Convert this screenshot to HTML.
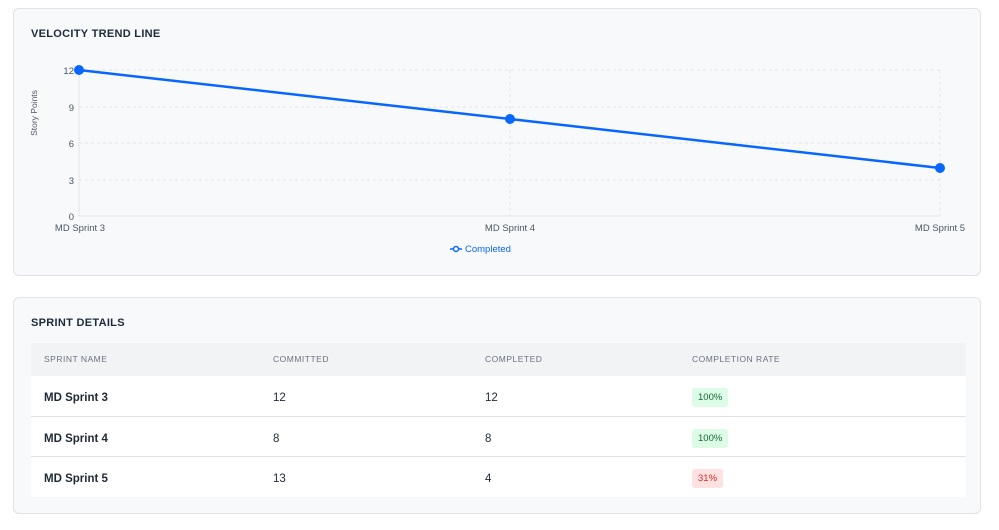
<!DOCTYPE html>
<html><head><meta charset="utf-8"><style>
body{margin:0;width:999px;height:530px;background:#fff;font-family:"Liberation Sans",sans-serif;position:relative;overflow:hidden}
.card{position:absolute;left:13px;width:968px;background:#f8f9fb;border:1px solid #dfe2e6;border-radius:6px;box-sizing:border-box}
.h{position:absolute;left:17px;font-size:11px;font-weight:bold;color:#1e2a3b;letter-spacing:0.3px}
.th{position:absolute;top:0;height:32px;line-height:32px;font-size:8.5px;color:#6b7280;letter-spacing:0.5px}
.row{position:absolute;left:0;width:935px;height:40px;background:#fff;border-top:1px solid #dfe2e6}
.c{position:absolute;top:2px;line-height:40px;font-size:11.5px;color:#1f2937}
.b{position:absolute;top:12px;height:19px;line-height:19px;font-size:9.5px;padding:0 6px;border-radius:3px}
</style></head><body>
<div class="card" style="top:8px;height:268px">
<div class="h" style="top:19px">VELOCITY TREND LINE</div>
</div>
<svg style="position:absolute;left:0;top:0" width="999" height="280">
<g stroke="#e2e5e9" stroke-dasharray="3,3" stroke-width="1">
<line x1="79" x2="940" y1="70" y2="70"/><line x1="79" x2="940" y1="107" y2="107"/><line x1="79" x2="940" y1="143" y2="143"/><line x1="79" x2="940" y1="180" y2="180"/>
<line x1="510" x2="510" y1="70" y2="216"/><line x1="940" x2="940" y1="70" y2="216"/>
</g>
<line x1="79" x2="940" y1="216" y2="216" stroke="#e2e5e9"/>
<line x1="79" x2="79" y1="70" y2="216" stroke="#e2e5e9"/>
<g font-size="9.5" fill="#4b5563" text-anchor="end" font-family="Liberation Sans">
<text x="74" y="74">12</text><text x="74" y="111">9</text><text x="74" y="147">6</text><text x="74" y="184">3</text><text x="74" y="220">0</text>
</g>
<g font-size="9.5" fill="#4b5563" text-anchor="middle" font-family="Liberation Sans">
<text x="80" y="231">MD Sprint 3</text><text x="510" y="231">MD Sprint 4</text><text x="940" y="231">MD Sprint 5</text>
</g>
<text transform="translate(37,113) rotate(-90)" font-size="8.5" fill="#4b5563" text-anchor="middle" font-family="Liberation Sans">Story Points</text>
<polyline points="79,70 510,119 940,168" fill="none" stroke="#0866ff" stroke-width="2.5"/>
<circle cx="79" cy="70" r="5" fill="#0866ff"/><circle cx="510" cy="119" r="5" fill="#0866ff"/><circle cx="940" cy="168" r="5" fill="#0866ff"/>
<line x1="450" x2="462" y1="249" y2="249" stroke="#0866ff" stroke-width="1.5"/><circle cx="456" cy="249" r="2.5" fill="#fff" stroke="#0866ff" stroke-width="1.5"/>
<text x="465" y="252" font-size="9.5" fill="#0866ff" font-family="Liberation Sans">Completed</text>
</svg>
<div class="card" style="top:297px;height:217px">
<div class="h" style="top:19px">SPRINT DETAILS</div>
<div style="position:absolute;left:17px;top:45px;width:935px;height:154px">
<div style="position:absolute;left:0;top:0;width:935px;height:33px;background:#f1f3f5;border-bottom:1px solid #d8dbe0"></div>
<div class="th" style="left:13px">SPRINT NAME</div><div class="th" style="left:242px">COMMITTED</div><div class="th" style="left:454px">COMPLETED</div><div class="th" style="left:661px">COMPLETION RATE</div>
<div class="row" style="top:33px;border-top:none"><div class="c" style="left:13px;font-weight:bold">MD Sprint 3</div><div class="c" style="left:242px">12</div><div class="c" style="left:454px">12</div><div class="b" style="left:661px;background:#dcfce7;color:#166534">100%</div></div>
<div class="row" style="top:73px"><div class="c" style="left:13px;font-weight:bold">MD Sprint 4</div><div class="c" style="left:242px">8</div><div class="c" style="left:454px">8</div><div class="b" style="left:661px;background:#dcfce7;color:#166534">100%</div></div>
<div class="row" style="top:113px"><div class="c" style="left:13px;font-weight:bold">MD Sprint 5</div><div class="c" style="left:242px">13</div><div class="c" style="left:454px">4</div><div class="b" style="left:661px;background:#fee2e2;color:#dc2626">31%</div></div>
</div>
</div>
</body></html>
